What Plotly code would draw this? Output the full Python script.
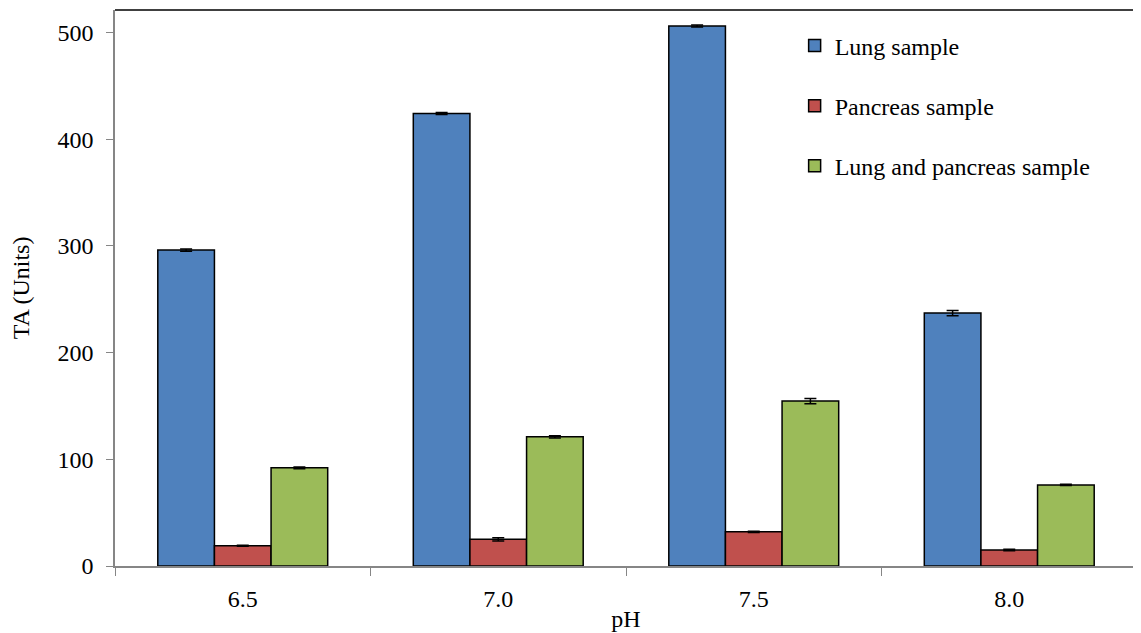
import plotly.graph_objects as go

categories = ["6.5", "7.0", "7.5", "8.0"]
lung = [296, 424, 506, 237]
pancreas = [19, 25, 32, 15]
combined = [92, 121, 154.5, 76]
lung_err = [1, 1, 1, 2.5]
pancreas_err = [0.5, 1.5, 0.5, 0.8]
combined_err = [0.8, 1, 2.5, 0.5]

series = [
    ("Lung sample", lung, lung_err, "#4F81BD"),
    ("Pancreas sample", pancreas, pancreas_err, "#C0504D"),
    ("Lung and pancreas sample", combined, combined_err, "#9BBB59"),
]

FONT = "Liberation Serif, Times New Roman, serif"
FS = 24

fig = go.Figure()
for i, (name, vals, errs, color) in enumerate(series):
    fig.add_trace(go.Bar(
        x=categories, y=vals, name=name, legendgroup=str(i),
        marker=dict(color=color, line=dict(color="black", width=1.5)),
        error_y=dict(type="data", array=errs, color="black", thickness=1.5, width=6),
    ))

# the page body has an 8px default margin, so margins are compensated
fig.update_layout(
    width=1141, height=633,
    margin=dict(l=107, r=12, t=2, b=75, autoexpand=False),
    plot_bgcolor="white", paper_bgcolor="white",
    barmode="group", bargap=0.335, bargroupgap=0,
    font=dict(family=FONT, size=FS, color="black"),
    showlegend=True,
    legend=dict(x=0.665, y=0.976, xanchor="left", yanchor="top",
                font=dict(size=FS), tracegroupgap=26,
                bgcolor="rgba(0,0,0,0)", itemwidth=30),
    xaxis=dict(
        title=dict(text="pH", standoff=0, font=dict(size=FS)),
        showline=True, linecolor="#868686", linewidth=1.5,
        ticks="outside", tickson="boundaries", ticklen=8, tickcolor="#868686",
        tickfont=dict(size=FS), ticklabelstandoff=10, automargin=False,
    ),
    yaxis=dict(
        title=dict(text="TA (Units)", standoff=24, font=dict(size=FS)),
        range=[0, 521], tickvals=[0, 100, 200, 300, 400, 500],
        showline=True, linecolor="#868686", linewidth=1.5,
        ticks="outside", ticklen=7, tickcolor="#868686",
        showgrid=False, zeroline=False, tickfont=dict(size=FS),
        ticklabelstandoff=8, automargin=False,
    ),
)

fig.add_shape(type="line", xref="paper", yref="paper", x0=0, x1=1, y0=1, y1=1,
              line=dict(color="black", width=1.5))
fig.add_shape(type="line", xref="paper", yref="paper", x0=1, x1=1, y0=0, y1=1,
              line=dict(color="black", width=1.5))

fig.write_html("out.html")
